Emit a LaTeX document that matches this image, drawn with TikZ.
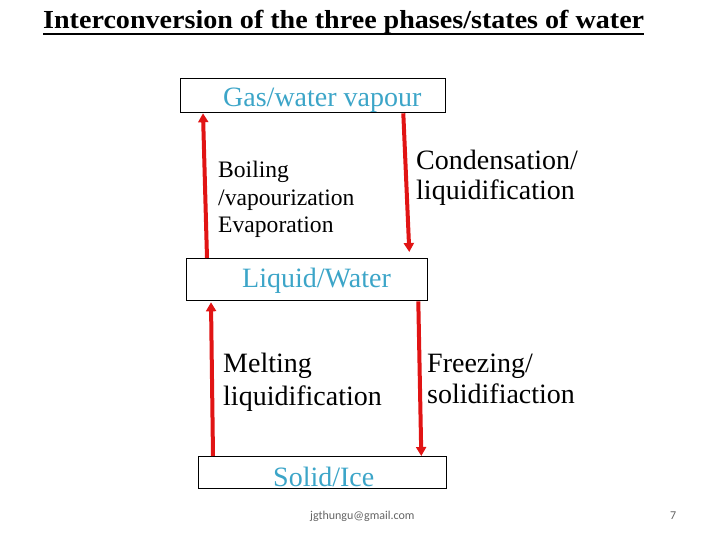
\documentclass[tikz,border=0pt]{standalone}
\usepackage{fontspec}
\setmainfont{Liberation Serif}
\newfontfamily\emailfont{Carlito}
\usetikzlibrary{arrows.meta}
\definecolor{phase}{RGB}{60,165,200}
\definecolor{arr}{RGB}{225,20,20}
\definecolor{foot}{RGB}{100,100,100}
\tikzset{
  phasebox/.style={draw=black, line width=1.3pt, inner sep=0pt, anchor=north west},
  phasetext/.style={text=phase, font=\fontsize{28}{28}\selectfont, inner sep=0pt, anchor=base west},
  procsmall/.style={font=\fontsize{23.6}{24}\selectfont, inner sep=0pt, anchor=base west},
  proc/.style={font=\fontsize{28}{28}\selectfont, inner sep=0pt, anchor=base west},
  conv/.style={draw=arr, line width=4pt, -{Triangle[width=10pt,length=9pt]}}
}
\begin{document}
\begin{tikzpicture}[x=1pt,y=-1pt]
\useasboundingbox (0,0) rectangle (720,540);
% title
\node[inner sep=0pt, anchor=base west, font=\fontsize{26}{26}\selectfont\bfseries] (title) at (43,29) {\scalebox{1.08}[1]{Interconversion of the three phases/states of water}};
\draw[line width=2.5pt] ([yshift=-4.8pt]title.base west) -- ([yshift=-4.8pt]title.base east);
% boxes
\node[phasebox, minimum width=265pt, minimum height=34pt] (gas) at (180,78) {};
\node[phasebox, minimum width=241pt, minimum height=42pt] (liq) at (186,258) {};
\node[phasebox, minimum width=248pt, minimum height=32pt] (sol) at (198,456) {};
% box texts
\node[phasetext] (gast) at (223,107) {Gas/water vapour};
\node[phasetext] (liqt) at (242,287) {Liquid/Water};
\node[phasetext] (solt) at (273,486) {Solid/Ice};
% process labels
\node[procsmall] (b1) at (218,178) {Boiling};
\node[procsmall] (b2) at (218,206) {/vapourization};
\node[procsmall] (b3) at (218,233) {Evaporation};
\node[proc] (c1) at (416,170) {Condensation/};
\node[proc] (c2) at (416,200) {liquidification};
\node[proc] (m1) at (223,372) {Melting};
\node[proc] (m2) at (223,405) {liquidification};
\node[proc] (f1) at (427,372) {Freezing/};
\node[proc] (f2) at (427,403) {solidifiaction};
% arrows
\draw[conv] ([xshift=21pt]liq.north west) -- ([xshift=23pt]gas.south west);
\draw[conv] ([xshift=-43pt]gas.south east) -- ([xshift=-19pt,yshift=6pt]liq.north east);
\draw[conv] ([xshift=15pt]sol.north west) -- ([xshift=25pt,yshift=-1pt]liq.south west);
\draw[conv] ([xshift=-10pt]liq.south east) -- ([xshift=-26pt]sol.north east);
% footer
\node[inner sep=0pt, anchor=base west, text=foot, font=\emailfont\fontsize{12}{12}\selectfont] (mail) at (310,519) {jgthungu@gmail.com};
\node[inner sep=0pt, anchor=base west, text=foot, font=\emailfont\fontsize{12}{12}\selectfont] (pg) at (670,519) {7};
\end{tikzpicture}
\end{document}
